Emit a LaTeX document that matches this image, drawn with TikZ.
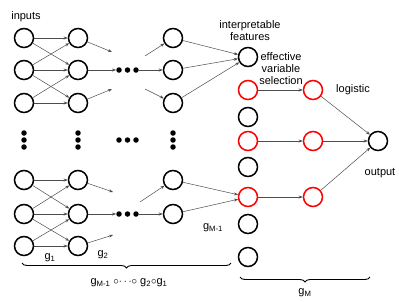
\documentclass[tikz,border=0pt]{standalone}
\usepackage{fontspec}
\setmainfont{Liberation Sans}
\usepackage{tikz}
\usetikzlibrary{calc}
\usetikzlibrary{arrows.meta}
\usetikzlibrary{decorations.pathreplacing}

\tikzset{
  unit/.style={circle, draw=black, line width=1.5pt, fill=white, minimum size=19pt, inner sep=0pt},
  selunit/.style={unit, draw=red},
  link/.style={->, >={Stealth[length=4pt, width=3pt]}, gray!60!black, line width=0.5pt},
  dotmark/.style={circle, fill=black, minimum size=5.5pt, inner sep=0pt},
  lbl/.style={font=\fontsize{11}{12}\selectfont, align=center, inner sep=1pt},
}

\begin{document}
\begin{tikzpicture}[x=1pt, y=-1pt]
\useasboundingbox (0,0) rectangle (399,301);

% --- HIDDEN LAYERS g_1 ... g_{M-1} ---
\foreach \r/\y in {1/38, 2/70, 3/103, 4/180, 5/214, 6/246} {
    \node[unit] (in\r) at (24,\y) {};
    \node[unit] (ha\r) at (78,\y) {};
}
\foreach \r/\y in {1/38, 2/70, 3/103, 4/180, 5/214}
    \node[unit] (hb\r) at (173,\y) {};

% Connections between neighbouring units of each block
\foreach \i/\j in {1/1, 1/2, 2/1, 2/2, 2/3, 3/2, 3/3,
                   4/4, 4/5, 5/4, 5/5, 5/6, 6/5, 6/6}
    \draw[link] (in\i) -- (ha\j);

% Horizontal and vertical ellipses
\foreach \k/\x in {a/119, b/127.5, c/136} {
    \node[dotmark] (dt\k) at (\x,70) {};
    \node[dotmark] (dm\k) at (\x,140) {};
    \node[dotmark] (db\k) at (\x,214) {};
}
\foreach \x in {24, 78, 173}
    \foreach \y in {133,140,147}
        \fill (\x,\y) circle (2.75pt);

% Arrows into and out of the ellipses
\coordinate (ta1) at (112,52);
\coordinate (ta3) at (112,89);
\coordinate (tb1) at (145,56);
\coordinate (tb3) at (145,89);
\coordinate (ba1) at (113,192);
\coordinate (ba3) at (113,235);
\coordinate (bb1) at (140,202);

\draw[link] (ha1) -- (ta1);
\draw[link] (ha2) -- (dta);
\draw[link] (ha3) -- (ta3);
\draw[link] (tb1) -- (hb1);
\draw[link] (dtc) -- (hb2);
\draw[link] (tb3) -- (hb3);

\draw[link] (ha4) -- (ba1);
\draw[link] (ha5) -- (dba);
\draw[link] (ha6) -- (ba3);
\draw[link] (bb1) -- (hb4);
\draw[link] (dbc) -- (hb5);

% --- FEATURE LAYER AND g_M ---
\foreach \r/\y/\s in {1/57/unit, 2/90/selunit, 3/117/unit, 4/141/selunit,
                      5/167/unit, 6/197/selunit, 7/224/unit, 8/257/unit}
    \node[\s] (f\r) at (248,\y) {};
\foreach \r/\y in {1/90, 2/141, 3/197}
    \node[selunit] (s\r) at (313,\y) {};
\node[unit] (out) at (378,141) {};

\foreach \i in {1,2,3}
    \draw[link] (hb\i) -- (f1);
\foreach \i in {4,5}
    \draw[link] (hb\i) -- (f6);
\draw[link] (f2) -- (s1);
\draw[link] (f4) -- (s2);
\draw[link] (f6) -- (s3);
\foreach \i in {1,2,3}
    \draw[link] (s\i) -- (out);

% --- LABELS ---
\node[lbl] (tin) at (26,17) {inputs};
\node[lbl] (tfeat) at (250,31) {interpretable\\features};
\node[lbl] (tsel) at (281,69) {effective\\variable\\selection};
\node[lbl] (tlog) at (353,90) {logistic};
\node[lbl] (tout) at (380,173) {output};
\node[lbl] (tg1) at (50,258) {g\textsubscript{1}};
\node[lbl] (tg2) at (103,255) {g\textsubscript{2}};
\node[lbl] (tgm1) at (213,228) {g\textsubscript{M-1}};

% --- BRACES ---
\draw[decorate, decoration={brace, mirror, amplitude=5pt}, line width=0.9pt]
    (22,263) -- (231,263);
\node[lbl] (tcomp) at (129,283)
    {g\textsubscript{M-1} $\circ\!\cdots\!\circ$ g\textsubscript{2}$\circ$g\textsubscript{1}};
\draw[decorate, decoration={brace, mirror, amplitude=5pt}, line width=0.9pt]
    (240,277) -- (370,277);
\node[lbl] (tgm) at (305,293) {g\textsubscript{M}};

\end{tikzpicture}
\end{document}
